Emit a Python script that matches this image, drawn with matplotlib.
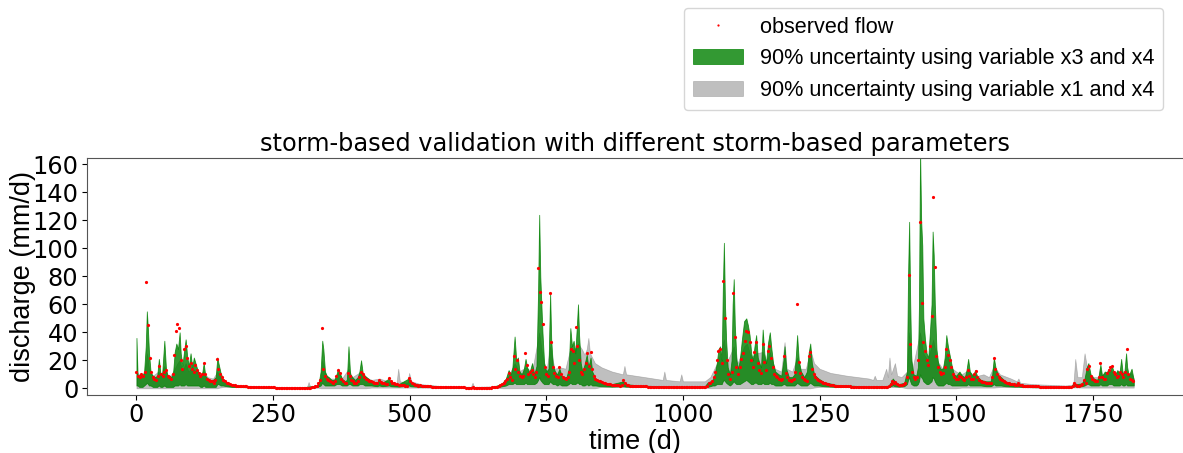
import numpy as np
import matplotlib
matplotlib.use("Agg")
import matplotlib.pyplot as plt

# ---------------- data ----------------
# observed flow, one value every 3 days starting at day 0 (rows = 30 days)
obs_step = 3
obs_flow = [
    12, 9, 8, 10, 9, 12, 76, 45, 22, 12,
    8, 7, 6, 9, 16, 10, 9, 12, 13, 9,
    8, 7, 10, 24, 41, 46, 43, 20, 14, 28,
    30, 22, 16, 18, 14, 12, 17, 13, 11, 9,
    10, 18, 10, 7, 6, 5, 5, 4, 6, 21,
    14, 10, 8, 6, 5, 4, 3.5, 3, 2.6, 2.3,
    2.1, 1.9, 1.8, 1.7, 1.6, 1.5, 1.4, 1.3, 1.2, 1.2,
    1.1, 1.0, 1.0, 0.9, 0.9, 0.8, 0.8, 0.8, 0.7, 0.7,
    0.7, 0.6, 0.6, 0.6, 0.6, 0.5, 0.5, 0.5, 0.5, 0.5,
    0.5, 0.4, 0.4, 0.4, 0.4, 0.4, 0.4, 0.4, 0.4, 0.4,
    0.4, 0.4, 0.4, 0.4, 0.3, 0.3, 0.4, 0.6, 0.9, 1.5,
    2, 4, 6, 43, 14, 9, 7, 6, 5, 4.5,
    4, 5, 9, 13, 11, 7, 5, 4, 4, 11,
    9, 6, 5, 4, 4, 5, 8, 12, 10, 8,
    7, 6, 5.5, 5, 4.5, 4, 3.8, 3.6, 6, 4.5,
    4, 3.6, 3.3, 3, 7.5, 5, 4, 3.5, 3, 2.8,
    2.6, 2.4, 2.3, 2.2, 2, 2, 7.5, 5, 3.5, 3,
    2.5, 2.2, 2, 2.4, 2, 1.8, 1.6, 1.5, 1.4, 1.3,
    1.2, 1.1, 1.1, 1.0, 1.0, 0.9, 0.9, 0.9, 0.8, 0.8,
    0.8, 0.7, 0.7, 0.7, 0.7, 0.6, 0.6, 0.6, 0.6, 0.6,
    0.6, 0.5, 0.5, 0.5, 0.5, 0.6, 0.5, 0.5, 0.5, 0.5,
    0.5, 0.5, 0.5, 0.5, 0.5, 0.5, 0.5, 0.6, 0.7, 0.8,
    1.2, 1.8, 2.5, 3, 4, 5, 7, 11, 8, 6,
    23, 14, 20, 12, 9, 8, 9, 25, 17, 10,
    12, 13, 10, 8, 12, 86, 69, 62, 46, 15,
    10, 9, 68, 33, 15, 11, 9, 8, 15, 10,
    8, 7.5, 7, 8, 12, 28, 27, 18, 44, 30,
    20, 12, 10, 14, 18, 25, 16, 26, 14, 9,
    7, 6, 5.5, 5, 4.5, 4, 3.6, 3.3, 3, 2.8,
    2.6, 2.4, 2.3, 2.2, 2.1, 2, 2.2, 6, 3.5, 2.5,
    2.2, 2.0, 1.9, 1.8, 1.7, 1.6, 1.5, 1.5, 1.4, 1.4,
    1.3, 1.3, 1.2, 1.2, 1.2, 1.1, 1.1, 1.1, 1.0, 1.0,
    1.0, 1.0, 0.9, 0.9, 0.9, 0.9, 0.9, 0.8, 0.8, 0.8,
    0.8, 0.8, 0.8, 0.8, 0.8, 0.7, 0.7, 0.7, 0.7, 0.7,
    0.7, 0.7, 0.7, 0.7, 0.8, 0.8, 0.9, 1.0, 2.0, 3.5,
    4, 5, 8, 12, 20, 27, 28, 18, 77, 50,
    20, 10, 7, 12, 68, 37, 15, 10, 15, 21,
    25, 34, 41, 40, 33, 20, 15, 26, 33, 18,
    13, 11, 32, 19, 13, 27, 30, 22, 15, 10,
    9, 8, 7, 6, 7, 23, 11, 8, 6, 5.5,
    6, 7, 12, 60, 19, 11, 8, 6.5, 6, 5.5,
    23, 26, 14, 10, 8, 7, 6, 5, 4.5, 4,
    3.6, 3.2, 2.9, 2.6, 2.4, 2.2, 2.0, 1.9, 1.8, 1.7,
    1.6, 1.5, 1.4, 1.4, 1.3, 1.3, 1.2, 1.2, 1.1, 1.1,
    1.0, 1.0, 1.0, 0.9, 0.9, 0.9, 0.9, 0.8, 0.8, 0.8,
    1.2, 0.9, 0.8, 0.8, 0.8, 0.8, 0.8, 0.9, 1.0, 1.5,
    3, 5.5, 3.5, 4.5, 3, 2.5, 2.2, 2.5, 3, 4,
    8, 81, 32, 12, 8, 7, 8, 20, 119, 61,
    33, 27, 20, 17, 30, 52, 137, 87, 23, 15,
    12, 10, 11, 15, 28, 24, 20, 15, 10, 8,
    7, 6.5, 9, 8, 6.5, 6, 8, 13, 9, 7,
    6.5, 10, 12.5, 8, 6, 5, 4.5, 4.2, 4, 3.8,
    3.6, 3.6, 8, 22, 14, 10, 8, 7, 6, 5,
    4.5, 4, 3.5, 3.2, 3, 2.8, 2.6, 2.5, 3.5, 2.5,
    2.2, 2.0, 1.9, 1.8, 1.7, 1.6, 1.5, 1.4, 1.4, 1.3,
    1.3, 1.2, 1.2, 1.1, 1.1, 1.1, 1.0, 1.0, 1.0, 1.0,
    0.9, 0.9, 0.9, 0.9, 0.9, 0.9, 0.9, 0.9, 0.9, 1.0,
    1.0, 1.5, 3.5, 2.5, 2, 2, 2.5, 3, 6, 4,
    14, 16, 9, 7, 6, 5.5, 5, 8, 18, 8,
    6.5, 7, 11, 13, 15, 16, 12, 10, 8, 9,
    12, 10, 8, 12, 28, 10, 7, 6, 5,
]

# 90% band, variables x3 and x4 (green)
green_day = [
    0, 2, 5, 8, 11, 14, 17, 19, 21, 23, 26, 30, 34, 38, 41, 44, 47, 51, 54, 57,
    61, 64, 67, 70, 73, 76, 79, 81, 84, 87, 90, 93, 96, 99, 102, 105, 108, 111, 114, 117,
    120, 123, 126, 130, 135, 140, 145, 148, 150, 154, 158, 165, 175, 200, 250, 300, 330,
    334, 337, 340, 342, 345, 348, 352, 357, 362, 366, 369, 372, 376, 381, 385, 388, 391, 395, 400, 405,
    408, 411, 414, 418, 424, 430, 440, 444, 450, 462, 466, 480, 498, 502, 520, 560, 650,
    663, 670, 676, 681, 685, 688, 692, 695, 698, 701, 705, 709, 712, 715, 719, 724, 728, 732, 735, 737,
    739, 741, 743, 746, 750, 754, 757, 759, 762, 766, 770, 774, 778, 783, 787, 791, 794, 797, 800, 803,
    806, 808, 810, 813, 816, 820, 824, 827, 831, 834, 840, 850, 870, 891, 895, 920, 1000, 1040,
    1045, 1050, 1054, 1058, 1062, 1065, 1068, 1071, 1073, 1075, 1077, 1079, 1082, 1086, 1089, 1091, 1093, 1095, 1098, 1101,
    1104, 1108, 1112, 1116, 1119, 1122, 1125, 1128, 1131, 1134, 1137, 1140, 1143, 1146, 1149, 1152, 1156, 1159, 1162, 1165,
    1169, 1175, 1180, 1184, 1186, 1189, 1194, 1200, 1204, 1207, 1209, 1212, 1216, 1222, 1227, 1230, 1233, 1236, 1240, 1248,
    1258, 1280, 1340, 1376,
    1380, 1384, 1388, 1395, 1405, 1410, 1412, 1414, 1416, 1418, 1422, 1427, 1430, 1432, 1434, 1436, 1438, 1440, 1443, 1446,
    1449, 1452, 1455, 1457, 1459, 1461, 1464, 1467, 1471, 1476, 1479, 1482, 1485, 1488, 1492, 1496, 1500, 1506, 1511, 1516,
    1519, 1522, 1525, 1530, 1535, 1538, 1545, 1555, 1563, 1566, 1569, 1572, 1576, 1582, 1590, 1605, 1614, 1620, 1660, 1710,
    1716, 1720, 1730, 1735, 1739, 1742, 1746, 1752, 1758, 1761, 1764, 1767, 1772, 1776, 1779, 1782, 1785, 1788, 1791, 1795,
    1799, 1802, 1805, 1808, 1811, 1813, 1816, 1821, 1825,
]
green_lo = [
    2, 2, 1, 1, 1, 2, 3, 4, 3, 2, 2, 1, 1, 1, 2, 1, 1, 2, 1, 1,
    1, 1, 1, 2, 2, 2, 3, 2, 2, 2, 3, 2, 2, 2, 2, 2, 2, 2, 2, 1,
    1, 2, 1, 1, 1, 1, 1, 3, 3, 2, 2, 1.5, 1, 0.8, 0.3, 0.2, 0.8,
    1.5, 2, 4, 3, 2, 2, 2, 2, 2, 3, 3, 3, 2, 2, 2, 3, 3, 2, 2, 2,
    3, 3, 3, 2, 2, 2, 1.5, 2, 1.5, 2, 1.5, 1.2, 2, 1.5, 1, 0.6, 0.4,
    1, 1.5, 2, 3, 3, 3, 4, 3, 3, 3, 3, 3, 4, 3, 3, 3, 3, 4, 6, 8,
    6, 5, 4, 3, 3, 3, 5, 4, 3, 3, 2, 3, 2, 2, 2, 3, 4, 3, 3, 3,
    4, 4, 3, 3, 2, 2, 3, 2, 3, 2, 2, 1.5, 1.2, 1.5, 1.2, 1, 0.5, 0.6,
    1, 1.5, 2, 2, 3, 3, 3, 3, 5, 6, 5, 4, 3, 2, 3, 4, 5, 4, 3, 3,
    3, 4, 5, 6, 5, 4, 3, 3, 4, 4, 3, 3, 3, 4, 3, 3, 3, 4, 3, 3,
    2, 2, 2, 3, 3, 2, 2, 2, 2, 3, 4, 3, 2, 2, 2, 3, 4, 3, 2, 2,
    1.5, 1, 0.6, 0.7,
    1.5, 2, 1.5, 1.2, 1.5, 3, 6, 8, 5, 3, 2, 2, 3, 5, 10, 8, 7, 5, 4, 3,
    3, 4, 5, 8, 7, 5, 3, 2, 2, 2, 3, 4, 3, 3, 2, 2, 2, 2, 2, 2,
    2, 3, 2, 2, 2, 2, 2, 1.5, 1.5, 2, 3, 2, 2, 2, 1.5, 1.2, 1.2, 1, 0.6, 0.5,
    1.5, 1.2, 1.5, 2, 3, 3, 2, 2, 2, 2, 3, 2, 2, 2, 3, 3, 3, 2, 2, 2,
    2, 3, 2, 2, 3, 2, 2, 2, 2,
]
green_hi = [
    36, 10, 9, 10, 9, 12, 30, 55, 42, 25, 11, 9, 8, 9, 21, 10, 10, 34, 14, 9,
    9, 8, 11, 26, 32, 28, 40, 25, 16, 26, 35, 22, 16, 25, 15, 22, 18, 14, 11, 9,
    10, 18, 9, 7, 6, 6, 8, 22, 18, 11, 7, 4, 2.5, 1.6, 0.6, 0.5, 2,
    5, 12, 34, 28, 12, 9, 8, 6, 6, 10, 14, 11, 7, 5, 6, 30, 10, 8, 6, 8,
    12, 20, 11, 9, 7, 5, 4, 6, 4, 7, 4, 3, 7, 4, 2.5, 1.2, 0.8,
    2.5, 4, 7, 13, 10, 15, 37, 20, 22, 12, 10, 14, 21, 15, 11, 18, 10, 16, 70, 124,
    80, 60, 40, 18, 12, 14, 68, 35, 16, 12, 10, 14, 9, 8, 8, 14, 43, 30, 34, 25,
    45, 60, 38, 18, 12, 17, 24, 15, 22, 12, 7, 4.5, 3, 5, 3, 2, 1, 1.5,
    4, 5, 6, 10, 18, 28, 30, 20, 70, 104, 60, 35, 15, 10, 20, 60, 78, 45, 20, 14,
    20, 35, 48, 50, 45, 38, 25, 20, 30, 38, 22, 18, 15, 42, 25, 18, 33, 40, 28, 18,
    12, 10, 9, 20, 30, 14, 8, 8, 10, 25, 38, 20, 12, 8, 12, 25, 32, 18, 10, 7,
    4.5, 2.5, 1.2, 1.8,
    4, 7, 5, 3, 4, 12, 80, 119, 60, 20, 10, 9, 15, 60, 170, 120, 102, 50, 35, 25,
    22, 40, 60, 112, 95, 60, 28, 18, 14, 14, 22, 38, 30, 24, 16, 10, 9, 12, 9, 8,
    13, 21, 12, 9, 13, 9, 6, 5, 5, 10, 22, 15, 10, 8, 5, 3.2, 3.8, 2.6, 1.3, 1.2,
    4, 3, 3.5, 7, 15, 18, 10, 7, 6, 9, 17, 9, 12, 11, 14, 13, 16, 12, 10, 13,
    11, 21, 10, 12, 25, 15, 9, 14, 6,
]

# 90% band, variables x1 and x4 (grey)
grey_day = [
    0, 5, 10, 15, 19, 23, 30, 40, 45, 51, 56, 62, 70, 75, 79, 84, 90, 95, 100, 105,
    110, 115, 123, 130, 140, 148, 152, 160, 170, 190, 230, 300, 312, 315, 318, 332,
    337, 340, 344, 352, 365, 370, 376, 388, 395, 411, 420, 430, 445, 460, 476, 479, 482, 496, 499, 503,
    520, 560, 612, 615, 618, 660,
    670, 681, 692, 700, 712, 724, 737, 742, 750, 757, 765, 775, 785, 795, 800, 808, 815, 820, 824, 827,
    830, 839, 851, 870, 890, 893, 896, 930, 963, 966, 969, 994, 997, 1000, 1040,
    1050, 1065, 1075, 1080, 1093, 1100, 1112, 1117, 1125, 1134, 1146, 1152, 1159, 1168, 1180, 1186, 1190, 1200, 1209, 1215,
    1225, 1233, 1240, 1250, 1270, 1300, 1340, 1348, 1351, 1354, 1365, 1372, 1375, 1378, 1381, 1388, 1392, 1400,
    1410, 1414, 1420, 1434, 1440, 1448, 1458, 1465, 1475, 1483, 1490, 1500, 1510, 1522, 1530, 1540, 1550, 1560, 1569, 1580,
    1600, 1611, 1614, 1617, 1640, 1700, 1712,
    1715, 1718, 1722, 1730, 1735, 1740, 1745, 1752, 1760, 1763, 1767, 1775, 1780, 1785, 1790, 1795, 1800, 1805, 1811, 1815,
    1820, 1825,
]
grey_lo = [
    0, 0, 0, 0, 0, 0, 0, 0, 0, 0, 0, 0, 0, 0, 0, 0, 0, 0, 0, 0,
    0, 0, 0, 0, 0, 0, 0.5, 1, 1, 0.8, 0.5, 0.3, 0.3, 0.3, 0.3, 0.5,
    0, 0, 0, 0, 0, 0, 0, 0, 0, 0, 0, 0.5, 0.5, 0.5, 0.5, 0.5, 0.5, 0.5, 0.5, 0.5,
    0.5, 0.4, 0.3, 0.3, 0.3, 0.3,
    0, 0, 0, 0, 0, 0, 0, 0, 0, 0, 0, 0, 0, 0, 0, 0, 0, 0, 0, 0,
    0, 0, 1, 1, 1, 1, 1, 0.8, 0.7, 0.7, 0.7, 0.6, 0.6, 0.6, 0.6,
    0, 0, 0, 0, 0, 0, 0, 0, 0, 0, 0, 0, 0, 0, 0, 0, 0, 0, 0, 0,
    0, 0, 0.5, 1, 1, 1, 0.8, 0.8, 0.8, 0.8, 0.8, 0.8, 0.8, 0.8, 0.8, 0.8, 0.8, 0.8,
    0, 0, 0, 0, 0, 0, 0, 0, 0, 0, 0, 0, 0.5, 0.5, 0.5, 0.5, 0.5, 0.5, 0.5, 0.8,
    0.8, 0.8, 0.8, 0.8, 0.6, 0.5, 0.6,
    0.6, 0.6, 0.6, 0.5, 0.5, 0.5, 0.5, 0.5, 0.5, 0.5, 0.5, 0.5, 0.5, 0.5, 0.5, 0.5, 0.5, 0.5, 0.5, 0.5,
    0.5, 0.5,
]
grey_hi = [
    12, 10, 9, 11, 25, 14, 9, 12, 9, 16, 10, 9, 14, 18, 20, 12, 18, 12, 14, 13,
    12, 10, 12, 8, 7, 12, 9, 6, 3.5, 2.2, 1.2, 0.8, 0.8, 4.5, 1, 2,
    8, 20, 12, 7, 7, 12, 7, 14, 8, 12, 8, 6, 7, 5, 4, 14, 5, 4, 11, 5,
    3, 1.5, 1, 4, 1, 1.5,
    4, 9, 18, 12, 15, 12, 40, 25, 12, 30, 14, 15, 14, 30, 27, 32, 28, 24, 28, 36,
    25, 18, 15, 12, 10, 16, 10, 8, 6, 12, 6, 5, 10, 5, 5,
    8, 20, 35, 18, 30, 18, 30, 32, 22, 25, 26, 18, 26, 14, 12, 33, 14, 12, 22, 14,
    14, 28, 18, 14, 11, 9, 7, 6, 9, 6, 6, 14, 8, 22, 10, 18, 9, 8,
    12, 40, 14, 40, 25, 20, 35, 20, 14, 25, 15, 12, 10, 13, 10, 9, 10, 8, 16, 10,
    7, 5, 7, 4, 3, 2, 2.5,
    5, 21, 8, 8, 25, 14, 10, 8, 8, 15, 9, 12, 14, 12, 10, 12, 10, 12, 13, 9,
    11, 7,
]

x_ticks = [0, 250, 500, 750, 1000, 1250, 1500, 1750]
y_ticks = [0, 20, 40, 60, 80, 100, 120, 140, 160]

title_text = "storm-based validation with different storm-based parameters"
label_obs = "observed flow"
label_green = "90% uncertainty using variable x3 and x4"
label_grey = "90% uncertainty using variable x1 and x4"

# ---------------- plotting ----------------
obs_day = np.arange(len(obs_flow)) * obs_step

fig = plt.figure(figsize=(11.83, 4.53), dpi=100)
ax = fig.add_axes([0.0732, 0.128, 0.9273, 0.5226])

h_grey = ax.fill_between(grey_day, grey_lo, grey_hi, color="grey", alpha=0.5,
                         lw=0.5, label=label_grey)
h_green = ax.fill_between(green_day, green_lo, green_hi, color="green", alpha=0.8,
                          lw=0.6, label=label_green)
h_obs, = ax.plot(obs_day, obs_flow, "o", color="red", ms=2.3, mew=0,
                 label=label_obs)

ax.set_xlim(-91.25, 1916.25)
ax.set_ylim(-4.8, 164.4)
ax.set_xticks(x_ticks)
ax.set_yticks(y_ticks)
ax.tick_params(labelsize=17.3, colors="black", pad=2.5)
for sp in ax.spines.values():
    sp.set_color("#555555")

ax.set_title(title_text, fontsize=17.3, family="DejaVu Sans", pad=5)
ax.set_xlabel("time (d)", fontsize=19.5, family="Liberation Sans", labelpad=1)
ax.set_ylabel("discharge (mm/d)", fontsize=19.5, family="Liberation Sans", labelpad=-3)

fig.legend([h_obs, h_green, h_grey], [label_obs, label_green, label_grey],
           loc="upper right", bbox_to_anchor=(1163 / 1183, 1 - 8 / 453),
           borderaxespad=0, prop={"family": "Liberation Sans", "size": 15.6},
           handlelength=2.3, markerscale=0.7)

fig.savefig("out.png", dpi=100)
